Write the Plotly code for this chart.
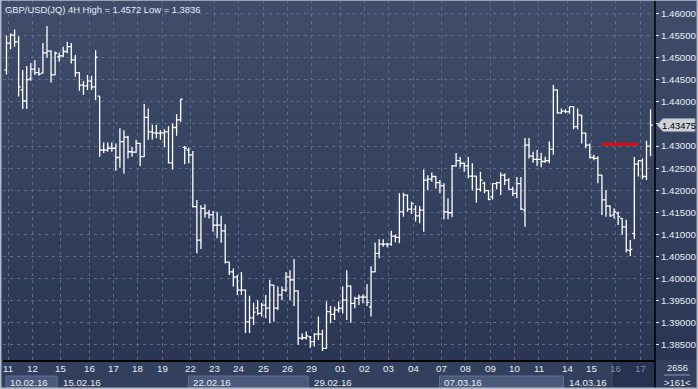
import plotly.graph_objects as go

# ---------------- data ----------------
opens = [
    1.4472, 1.4533, 1.4551, 1.4536, 1.4427, 1.4402, 1.4452, 1.4474, 1.4466, 1.4465,
    1.4511, 1.4515, 1.4461, 1.4502, 1.4504, 1.4514, 1.4525, 1.4495, 1.4466, 1.4438,
    1.4436, 1.4447, 1.4434, 1.4413, 1.4291, 1.4291, 1.4295, 1.4295, 1.4274, 1.4310,
    1.4320, 1.4287, 1.4286, 1.4306, 1.4276, 1.4365, 1.4332, 1.4330, 1.4329, 1.4330,
    1.4332, 1.4262, 1.4342, 1.4359, 1.4297, 1.4291, 1.4280, 1.4163, 1.4087, 1.4159,
    1.4148, 1.4144, 1.4121, 1.4121, 1.4108, 1.4037, 1.4015, 1.4004, 1.3974, 1.3974,
    1.3902, 1.3911, 1.3933, 1.3921, 1.3940, 1.3933, 1.3985, 1.3933, 1.3963, 1.3974,
    1.4004, 1.3997, 1.3972, 1.3865, 1.3866, 1.3868, 1.3857, 1.3874, 1.3874, 1.3842,
    1.3925, 1.3919, 1.3929, 1.3933, 1.3951, 1.3983, 1.3944, 1.3955, 1.3958, 1.3958,
    1.3936, 1.4015, 1.4057, 1.4078, 1.4078, 1.4078, 1.4096, 1.4093, 1.4151, 1.4189,
    1.4157, 1.4157, 1.4142, 1.4155, 1.4223, 1.4225, 1.4231, 1.4217, 1.4210, 1.4151,
    1.4149, 1.4255, 1.4267, 1.4261, 1.4255, 1.4232, 1.4232, 1.4202, 1.4216, 1.4199,
    1.4185, 1.4215, 1.4217, 1.4234, 1.4223, 1.4202, 1.4193, 1.4215, 1.4155, 1.4302,
    1.4277, 1.4270, 1.4270, 1.4265, 1.4267, 1.4293, 1.4427, 1.4375, 1.4379, 1.4378,
    1.4389, 1.4344, 1.4370, 1.4329, 1.4302, 1.4274, 1.4272, 1.4234, 1.4178, 1.4164,
    1.4144, 1.4148, 1.4136, 1.4117, 1.4063, 1.4102, 1.4259, 1.4267, 1.4231, 1.4300,
]
highs = [
    1.4550, 1.4555, 1.4564, 1.4548, 1.4472, 1.4481, 1.4488, 1.4495, 1.4477, 1.4533,
    1.4572, 1.4517, 1.4514, 1.4512, 1.4525, 1.4536, 1.4533, 1.4506, 1.4467, 1.4447,
    1.4461, 1.4459, 1.4517, 1.4414, 1.4308, 1.4308, 1.4308, 1.4306, 1.4340, 1.4336,
    1.4323, 1.4298, 1.4314, 1.4307, 1.4395, 1.4385, 1.4348, 1.4348, 1.4336, 1.4338,
    1.4345, 1.4351, 1.4372, 1.4407, 1.4300, 1.4296, 1.4289, 1.4178, 1.4166, 1.4168,
    1.4155, 1.4153, 1.4151, 1.4142, 1.4123, 1.4038, 1.4023, 1.4008, 1.4015, 1.3975,
    1.3961, 1.3945, 1.3951, 1.3945, 1.3963, 1.3997, 1.3986, 1.3982, 1.3982, 1.4015,
    1.4019, 1.4044, 1.3973, 1.3876, 1.3880, 1.3870, 1.3876, 1.3914, 1.3884, 1.3948,
    1.3938, 1.3936, 1.3948, 1.3982, 1.4019, 1.3984, 1.3959, 1.3964, 1.3964, 1.3987,
    1.4028, 1.4081, 1.4089, 1.4089, 1.4081, 1.4108, 1.4099, 1.4193, 1.4194, 1.4190,
    1.4174, 1.4166, 1.4164, 1.4247, 1.4234, 1.4240, 1.4232, 1.4223, 1.4216, 1.4182,
    1.4257, 1.4284, 1.4275, 1.4263, 1.4275, 1.4261, 1.4233, 1.4242, 1.4219, 1.4200,
    1.4216, 1.4219, 1.4240, 1.4238, 1.4227, 1.4208, 1.4230, 1.4230, 1.4318, 1.4318,
    1.4287, 1.4291, 1.4285, 1.4276, 1.4311, 1.4438, 1.4428, 1.4385, 1.4383, 1.4389,
    1.4390, 1.4385, 1.4371, 1.4330, 1.4306, 1.4280, 1.4277, 1.4235, 1.4200, 1.4166,
    1.4159, 1.4151, 1.4137, 1.4133, 1.4087, 1.4275, 1.4268, 1.4272, 1.4312, 1.4383,
]
lows = [
    1.4462, 1.4519, 1.4525, 1.4412, 1.4384, 1.4384, 1.4448, 1.4461, 1.4459, 1.4464,
    1.4500, 1.4444, 1.4460, 1.4491, 1.4501, 1.4510, 1.4487, 1.4457, 1.4425, 1.4416,
    1.4427, 1.4427, 1.4404, 1.4276, 1.4284, 1.4287, 1.4287, 1.4244, 1.4251, 1.4237,
    1.4272, 1.4276, 1.4284, 1.4255, 1.4275, 1.4314, 1.4315, 1.4318, 1.4314, 1.4297,
    1.4261, 1.4247, 1.4323, 1.4355, 1.4259, 1.4261, 1.4161, 1.4057, 1.4067, 1.4138,
    1.4136, 1.4106, 1.4091, 1.4081, 1.4034, 1.4008, 1.3982, 1.3963, 1.3963, 1.3877,
    1.3877, 1.3895, 1.3917, 1.3914, 1.3910, 1.3899, 1.3902, 1.3929, 1.3951, 1.3970,
    1.3951, 1.3938, 1.3850, 1.3861, 1.3862, 1.3843, 1.3846, 1.3861, 1.3836, 1.3841,
    1.3899, 1.3906, 1.3923, 1.3921, 1.3906, 1.3900, 1.3933, 1.3940, 1.3944, 1.3938,
    1.3914, 1.4014, 1.4046, 1.4072, 1.4071, 1.4074, 1.4082, 1.4080, 1.4140, 1.4151,
    1.4146, 1.4129, 1.4125, 1.4106, 1.4200, 1.4219, 1.4204, 1.4193, 1.4134, 1.4134,
    1.4139, 1.4253, 1.4252, 1.4242, 1.4227, 1.4200, 1.4172, 1.4197, 1.4193, 1.4178,
    1.4179, 1.4202, 1.4189, 1.4212, 1.4202, 1.4187, 1.4182, 1.4155, 1.4117, 1.4272,
    1.4262, 1.4255, 1.4252, 1.4262, 1.4261, 1.4280, 1.4373, 1.4373, 1.4374, 1.4373,
    1.4338, 1.4338, 1.4306, 1.4295, 1.4272, 1.4268, 1.4216, 1.4144, 1.4140, 1.4140,
    1.4136, 1.4121, 1.4099, 1.4059, 1.4051, 1.4089, 1.4231, 1.4225, 1.4223, 1.4277,
]
closes = [
    1.4533, 1.4551, 1.4536, 1.4434, 1.4402, 1.4450, 1.4474, 1.4466, 1.4463, 1.4511,
    1.4515, 1.4461, 1.4510, 1.4504, 1.4514, 1.4525, 1.4495, 1.4466, 1.4438, 1.4436,
    1.4447, 1.4434, 1.4501, 1.4291, 1.4291, 1.4295, 1.4295, 1.4274, 1.4310, 1.4320,
    1.4287, 1.4286, 1.4306, 1.4276, 1.4365, 1.4332, 1.4330, 1.4329, 1.4330, 1.4332,
    1.4262, 1.4342, 1.4359, 1.4406, 1.4295, 1.4280, 1.4163, 1.4087, 1.4159, 1.4148,
    1.4144, 1.4121, 1.4121, 1.4108, 1.4037, 1.4015, 1.4004, 1.3974, 1.3974, 1.3902,
    1.3911, 1.3924, 1.3921, 1.3940, 1.3933, 1.3985, 1.3933, 1.3963, 1.3974, 1.4004,
    1.3997, 1.3972, 1.3865, 1.3866, 1.3870, 1.3857, 1.3874, 1.3874, 1.3842, 1.3925,
    1.3919, 1.3929, 1.3933, 1.3951, 1.3983, 1.3944, 1.3955, 1.3958, 1.3958, 1.3946,
    1.4015, 1.4057, 1.4078, 1.4078, 1.4078, 1.4096, 1.4093, 1.4151, 1.4189, 1.4157,
    1.4170, 1.4142, 1.4155, 1.4223, 1.4225, 1.4231, 1.4217, 1.4210, 1.4151, 1.4149,
    1.4255, 1.4267, 1.4261, 1.4255, 1.4232, 1.4232, 1.4202, 1.4223, 1.4199, 1.4179,
    1.4215, 1.4217, 1.4234, 1.4223, 1.4202, 1.4193, 1.4215, 1.4157, 1.4302, 1.4277,
    1.4270, 1.4270, 1.4265, 1.4267, 1.4293, 1.4427, 1.4375, 1.4379, 1.4378, 1.4389,
    1.4344, 1.4370, 1.4329, 1.4302, 1.4274, 1.4272, 1.4234, 1.4178, 1.4164, 1.4142,
    1.4151, 1.4140, 1.4117, 1.4065, 1.4066, 1.4259, 1.4267, 1.4231, 1.4300, 1.43475,
]

day_labels = ["11", "12", "15", "16", "17", "18", "19", "22", "23", "24", "25", "26", "29",
              "01", "02", "03", "04", "07", "08", "09", "10", "11", "14", "15", "16", "17"]
day_start = [0, 6, 13, 20, 26, 32, 38, 45, 51, 57, 63, 69, 75,
             82, 88, 94, 100, 107, 113, 119, 125, 131, 138, 144, 150, 156]
week_labels = ["10.02.16", "15.02.16", "22.02.16", "29.02.16", "07.03.16", "14.03.16"]
week_start = [0, 13, 45, 75, 107, 138]
price_ticks = [1.385, 1.390, 1.395, 1.400, 1.405, 1.410, 1.415, 1.420, 1.425,
               1.430, 1.435, 1.440, 1.445, 1.450, 1.455, 1.460]
alert_level = 1.4304
alert_from, alert_to = 147, 156
title_text = "GBP/USD(JQ) 4H High = 1.4572 Low = 1.3836"
visible_start = 150  # start of the highlighted (scroll) window on the time axis
bars_total_text = "2656"
bars_visible_text = ">161<"

# ---------------- figure ----------------
W, H = 698, 389
ML, MR, MT, MB = 3, 43, 0, 29
PW, PH = W - ML - MR, H - MT - MB

x = list(range(len(opens)))
FONT = "Liberation Sans"
TXT = "#e8ecf4"
GRID = "#5d6c8b"
FS = 9.4


def esc(s):
    return s.replace("&", "&amp;").replace("<", "&lt;").replace(">", "&gt;")


fig = go.Figure(go.Ohlc(
    x=x, open=opens, high=highs, low=lows, close=closes,
    increasing_line_color="#ffffff", decreasing_line_color="#ffffff",
    line_width=1.3, tickwidth=0.5, hoverinfo="skip", showlegend=False,
))


def pxy(p):
    """pixel row (from top) -> paper y"""
    return (PH - p) / PH


def pxx(p):
    """pixel column (from left) -> paper x"""
    return (p - ML) / PW


shapes = []
# vertical gradient background (plot + right axis panel)
top_c = (63, 77, 107)
bot_c = (42, 54, 84)
N = 40
for k in range(N):
    t = (k + 0.5) / N
    c = tuple(int(round(top_c[i] + (bot_c[i] - top_c[i]) * t)) for i in range(3))
    shapes.append(dict(type="rect", xref="paper", yref="paper",
                       x0=pxx(0), x1=pxx(W),
                       y0=1 - (k + 1) / N - 0.001, y1=1 - k / N,
                       fillcolor="rgb(%d,%d,%d)" % c, line_width=0, layer="below"))
# bottom time-axis panel
shapes.append(dict(type="rect", xref="paper", yref="paper",
                   x0=pxx(0), x1=pxx(W), y0=pxy(H), y1=pxy(PH),
                   fillcolor="#32405e", line_width=0, layer="below"))
# week boxes (alternating)
for i in range(0, len(week_start), 2):
    x0 = week_start[i] - 0.5
    x1 = week_start[i + 1] - 0.5 if i + 1 < len(week_start) else visible_start - 0.5
    shapes.append(dict(type="rect", xref="x", yref="paper", x0=x0 + 0.4, x1=x1,
                       y0=pxy(388), y1=pxy(376),
                       fillcolor="#4a5a7c", line=dict(color="#5f6f90", width=1), layer="below"))
# highlighted window at the end
shapes.append(dict(type="rect", xref="x", yref="paper", x0=visible_start - 0.5, x1=len(x) + 0.2,
                   y0=pxy(388), y1=pxy(361),
                   fillcolor="#263252", line=dict(color="#3e4c6c", width=1), layer="below"))
# separator of the right-bottom counter
shapes.append(dict(type="line", xref="paper", yref="paper",
                   x0=pxx(664), x1=pxx(690), y0=pxy(375), y1=pxy(375),
                   line=dict(color="#8c98b0", width=1), layer="above"))
# right axis separator (continues into the bottom panel)
shapes.append(dict(type="line", xref="paper", yref="paper", x0=1, x1=1, y0=pxy(H), y1=1,
                   line=dict(color="#000000", width=1.5), layer="above"))
# red alert line
shapes.append(dict(type="line", xref="x", yref="y", x0=alert_from, x1=alert_to,
                   y0=alert_level, y1=alert_level,
                   line=dict(color="#ff0000", width=2.6), layer="above"))
# current price marker
last = closes[-1]
shapes.append(dict(type="path", xref="paper", yref="y", xsizemode="pixel", ysizemode="pixel",
                   xanchor=1, yanchor=last,
                   path="M 2,0 L 8,-6.5 L 40,-6.5 L 40,6.5 L 8,6.5 Z",
                   fillcolor="#cdd1d8", line=dict(color="#8a94a8", width=1), layer="above"))
# outer window frame
shapes.append(dict(type="rect", xref="paper", yref="paper",
                   x0=pxx(0.7), x1=pxx(W - 0.7), y0=pxy(H - 0.7), y1=1.0,
                   line=dict(color="#b4bccc", width=1.5), fillcolor="rgba(0,0,0,0)", layer="above"))

annotations = []
annotations.append(dict(text=esc(title_text), xref="paper", yref="paper", x=0, y=1,
                        xanchor="left", yanchor="top", xshift=0, yshift=-2, showarrow=False,
                        font=dict(family=FONT, size=FS, color=TXT)))
for lab, s in zip(day_labels, day_start):
    col = "#8090aa" if s >= visible_start else TXT
    annotations.append(dict(text=lab, xref="x", yref="paper", x=s + 0.4, y=pxy(368),
                            xanchor="center", yanchor="middle", showarrow=False,
                            font=dict(family=FONT, size=FS + 0.3, color=col)))
for lab, s in zip(week_labels, week_start):
    annotations.append(dict(text=lab, xref="x", yref="paper", x=s, y=pxy(382),
                            xanchor="left", yanchor="middle", xshift=2, showarrow=False,
                            font=dict(family=FONT, size=FS + 0.3, color=TXT)))
annotations.append(dict(text="%.5f" % last, xref="paper", yref="y", x=1, y=last,
                        xanchor="left", yanchor="middle", xshift=5, showarrow=False,
                        font=dict(family=FONT, size=FS, color="#000000")))
annotations.append(dict(text=esc(bars_total_text), xref="paper", yref="paper", x=pxx(677),
                        y=pxy(367), xanchor="center", yanchor="middle", showarrow=False,
                        font=dict(family=FONT, size=FS, color=TXT)))
annotations.append(dict(text=esc(bars_visible_text), xref="paper", yref="paper", x=pxx(677),
                        y=pxy(382), xanchor="center", yanchor="middle", showarrow=False,
                        font=dict(family=FONT, size=FS, color=TXT)))

# the price marker replaces the nearest tick label
tick_text = ["" if abs(v - last) < 0.0025 else "%.5f" % v for v in price_ticks]

y_lo = 1.38156
y_hi = 1.46306
fig.update_layout(
    width=W, height=H, margin=dict(l=ML, r=MR, t=MT, b=MB, pad=0),
    paper_bgcolor="#32405e", plot_bgcolor="rgba(0,0,0,0)",
    shapes=shapes, annotations=annotations, showlegend=False,
    xaxis=dict(range=[-0.86, 160.1], rangeslider=dict(visible=False),
               tickvals=[s + 0.4 for s in day_start], showticklabels=False, ticks="",
               showgrid=True, gridcolor=GRID, griddash="3px,4px", gridwidth=1,
               zeroline=False, showline=True, linecolor="#000000", linewidth=1.5),
    yaxis=dict(range=[y_lo, y_hi], side="right", tickvals=price_ticks,
               ticktext=tick_text,
               ticks="outside", ticklen=3, tickcolor=TXT,
               tickfont=dict(family=FONT, size=FS + 0.3, color=TXT),
               showgrid=True, gridcolor=GRID, griddash="3px,4px", gridwidth=1,
               zeroline=False, showline=False),
)

fig.write_html("out.html")
